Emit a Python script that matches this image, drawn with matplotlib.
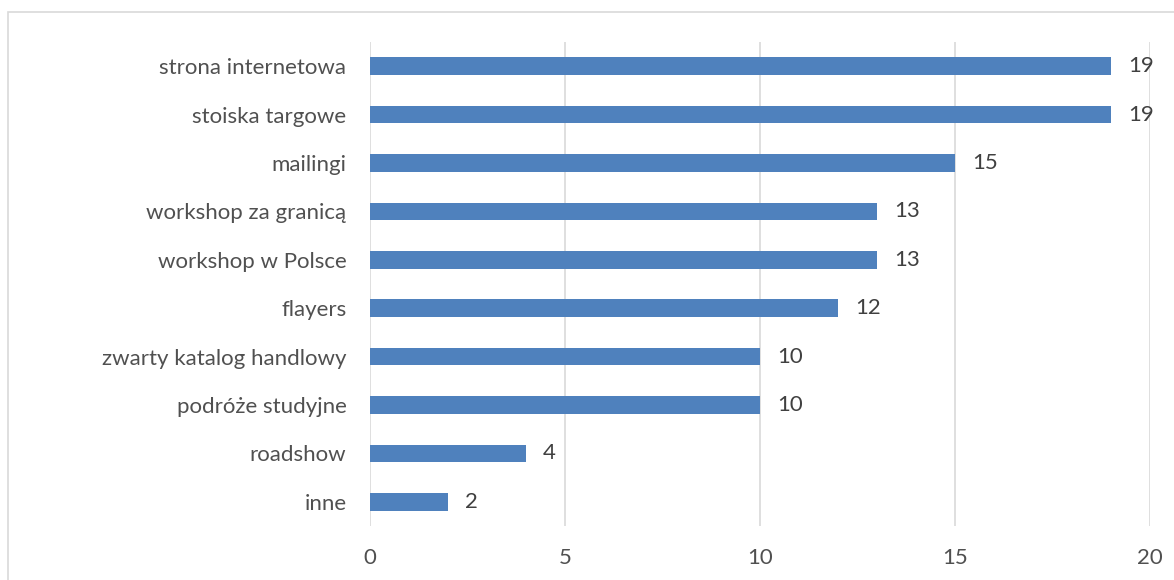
import matplotlib
matplotlib.use("Agg")
import matplotlib.pyplot as plt
from matplotlib.patches import Rectangle

categories = ["strona internetowa", "stoiska targowe", "mailingi", "workshop za granicą",
              "workshop w Polsce", "flayers", "zwarty katalog handlowy", "podróże studyjne",
              "roadshow", "inne"]
values = [19, 19, 15, 13, 13, 12, 10, 10, 4, 2]
xticks = [0, 5, 10, 15, 20]

plt.rcParams['font.family'] = ['Lato', 'DejaVu Sans']
text_color = '#505050'
bar_color = '#4F81BD'
fs = 16

fig = plt.figure(figsize=(11.74, 5.8), dpi=100)
fig.patches.append(Rectangle((8/1174, -0.1), 1.2, 1 - 12/580 + 0.1, transform=fig.transFigure,
                             fill=False, edgecolor='#D9D9D9', linewidth=1.2))
ax = fig.add_axes([370/1174, 1 - 526/580, (1150-370)/1174, (526-42)/580])

ypos = list(range(len(categories)))
ax.barh(ypos, values, height=0.36, color=bar_color, zorder=3)
ax.set_ylim(len(categories) - 0.5, -0.5)
ax.set_xlim(0, 20)
ax.set_yticks(ypos)
ax.set_yticklabels(categories, fontsize=fs, color=text_color)
ax.set_xticks(xticks)
ax.set_xticklabels([str(t) for t in xticks], fontsize=fs, color=text_color)
ax.tick_params(axis='both', length=0)
ax.tick_params(axis='y', pad=17)
ax.tick_params(axis='x', pad=16)
for s in ax.spines.values():
    s.set_visible(False)
ax.grid(axis='x', color='#D9D9D9', linewidth=1.2, zorder=0)
ax.grid(axis='y', visible=False)

for y, v in zip(ypos, values):
    ax.text(v + 0.43, y, str(v), va='center', ha='left', fontsize=fs, color='#404040')

fig.savefig("out.png", dpi=100)
